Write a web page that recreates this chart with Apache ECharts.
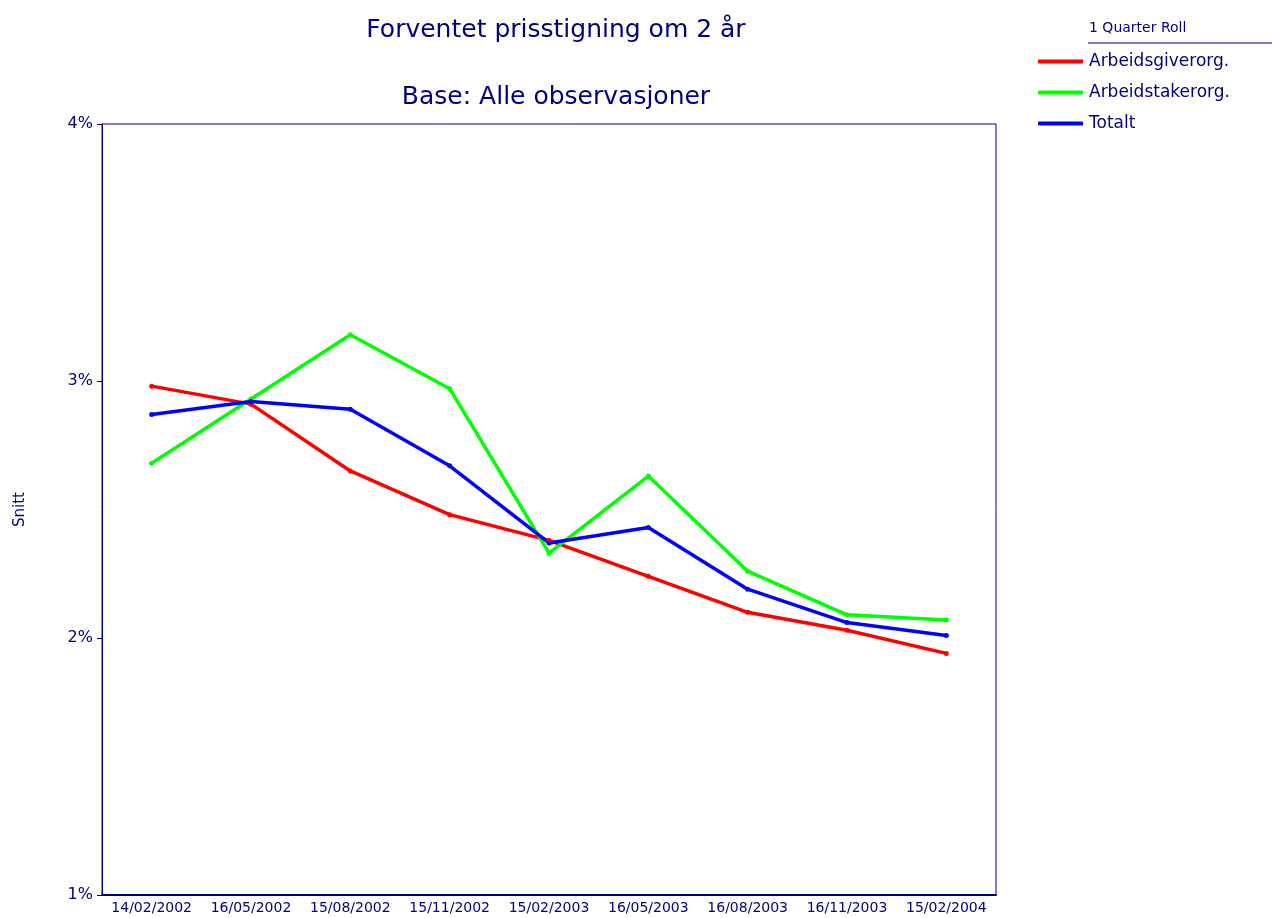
<!DOCTYPE html>
<html>
<head>
<meta charset="utf-8">
<script src="https://cdn.jsdelivr.net/npm/echarts@6/dist/echarts.min.js"></script>
<style>
html,body{margin:0;padding:0;background:#fff;}
#chart{width:1272px;height:918px;}
</style>
</head>
<body>
<div id="chart"></div>
<script>
// datoer (kategorier)
var datoer = ['14/02/2002','16/05/2002','15/08/2002','15/11/2002','15/02/2003','16/05/2003','16/08/2003','16/11/2003','15/02/2004'];
// snitt i prosent
var arbeidsgiver = [2.98, 2.91, 2.65, 2.48, 2.38, 2.24, 2.10, 2.03, 1.94];
var arbeidstaker = [2.68, 2.93, 3.18, 2.97, 2.33, 2.63, 2.26, 2.09, 2.07];
var totalt = [2.87, 2.92, 2.89, 2.67, 2.37, 2.43, 2.19, 2.06, 2.01];
var navy = '#000080';
var font = 'DejaVu Sans, Liberation Sans, Arial, sans-serif';

var myChart = echarts.init(document.getElementById('chart'));

function serie(navn, data, farge){
	return {
		name: navn,
		type: 'line',
		data: data,
		symbol: 'circle',
		symbolSize: 5,
		lineStyle: {color: farge, width: 3.5},
		itemStyle: {color: farge},
		emphasis: {disabled: true},
		animation: false
	};
}

var option = {
	backgroundColor: '#fff',
	textStyle: {fontFamily: font},
	title: [{
		text: 'Forventet prisstigning om 2 år',
		left: 551, top: 13, textAlign: 'center',
		textStyle: {color: navy, fontSize: 25, fontWeight: 'normal', fontFamily: font}
	},{
		text: 'Base: Alle observasjoner',
		left: 551, top: 80, textAlign: 'center',
		textStyle: {color: navy, fontSize: 25, fontWeight: 'normal', fontFamily: font}
	}],
	legend: {
		orient: 'vertical',
		left: 1038, top: 53,
		padding: 0,
		icon: 'roundRect',
		itemWidth: 45, itemHeight: 4,
		itemGap: 14,
		textStyle: {color: navy, fontSize: 17, fontFamily: font, padding: [0,0,0,1]},
		data: ['Arbeidsgiverorg.','Arbeidstakerorg.','Totalt']
	},
	graphic: [{
		type: 'text', left: 1089, top: 21,
		style: {text: '1 Quarter Roll', fill: navy, font: '14px ' + font}
	},{
		type: 'line', shape: {x1: 1088, y1: 43, x2: 1272, y2: 43},
		style: {stroke: navy, lineWidth: 1}
	}],
	grid: {
		left: 102, right: 276, top: 124, bottom: 23,
		show: true, borderColor: navy, borderWidth: 1
	},
	xAxis: {
		type: 'category',
		data: datoer,
		boundaryGap: true,
		axisLine: {lineStyle: {color: navy, width: 2}},
		axisTick: {alignWithLabel: true, length: 5, lineStyle: {color: navy}},
		axisLabel: {color: navy, fontSize: 14, margin: 6, interval: 0, fontFamily: font}
	},
	yAxis: {
		type: 'value',
		min: 1, max: 4, interval: 1,
		name: 'Snitt',
		nameLocation: 'middle',
		nameGap: 74,
		nameTextStyle: {color: navy, fontSize: 15, fontFamily: font},
		axisLine: {show: true, lineStyle: {color: navy}},
		axisTick: {show: true, length: 5, lineStyle: {color: navy}},
		axisLabel: {color: navy, fontSize: 16, margin: 9, formatter: '{value}%', fontFamily: font},
		splitLine: {show: false}
	},
	series: [
		serie('Arbeidsgiverorg.', arbeidsgiver, '#ff0000'),
		serie('Arbeidstakerorg.', arbeidstaker, '#00ff00'),
		serie('Totalt', totalt, '#0000ff')
	]
};

myChart.setOption(option);
</script>
</body>
</html>
